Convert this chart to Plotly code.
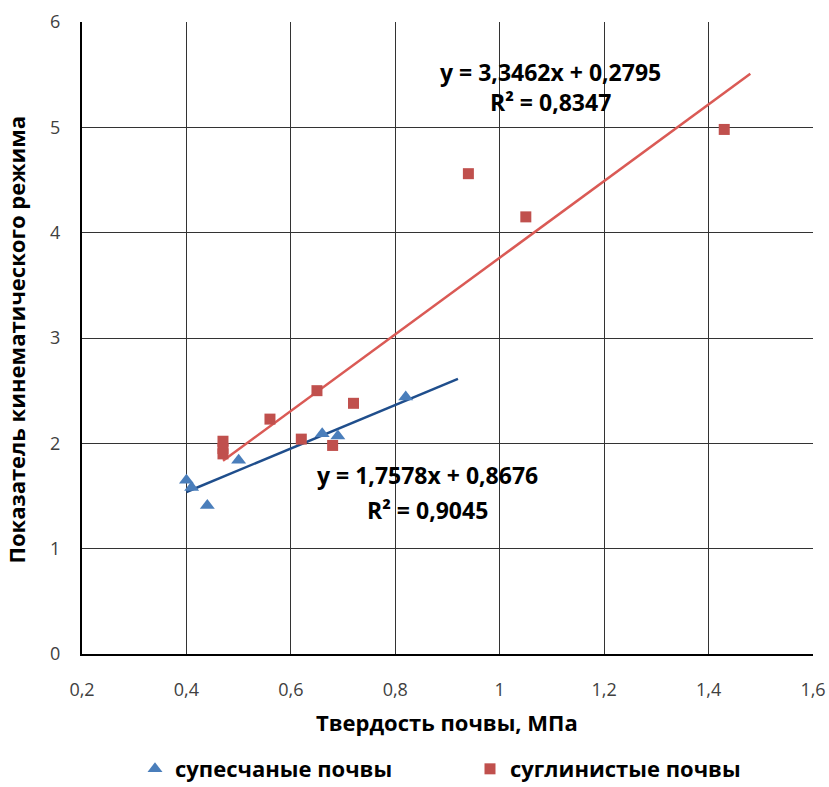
import numpy as np
import plotly.graph_objects as go

# --- data ---
sand_x = [0.40, 0.41, 0.44, 0.50, 0.66, 0.69, 0.82]
sand_y = [1.65, 1.58, 1.41, 1.84, 2.09, 2.07, 2.44]

loam_x = [0.47, 0.47, 0.47, 0.56, 0.62, 0.65, 0.68, 0.72, 0.94, 1.05, 1.43]
loam_y = [2.02, 1.95, 1.90, 2.23, 2.04, 2.50, 1.98, 2.38, 4.56, 4.15, 4.98]

# equation labels as printed on the chart
sand_k, sand_b, sand_r2 = 1.7578, 0.8676, 0.9045
loam_k, loam_b, loam_r2 = 3.3462, 0.2795, 0.8347
sand_forward = 0.10
loam_forward = 0.05

x_ticks = [0.2, 0.4, 0.6, 0.8, 1.0, 1.2, 1.4, 1.6]
x_tick_text = ["0,2", "0,4", "0,6", "0,8", "1", "1,2", "1,4", "1,6"]
y_ticks = [0, 1, 2, 3, 4, 5, 6]
y_tick_text = ["0", "1", "2", "3", "4", "5", "6"]

name_sand = "супесчаные почвы"
name_loam = "суглинистые почвы"
x_title = "Твердость почвы, МПа"
y_title = "Показатель кинематического режима"

def fmt(v):
    return f"{v:.4f}".replace(".", ",")

# linear trend lines fitted to the plotted points
sk, sb = np.polyfit(sand_x, sand_y, 1)
lk, lb = np.polyfit(loam_x, loam_y, 1)
sand_tx = [min(sand_x), max(sand_x) + sand_forward]
sand_ty = [sk * x + sb for x in sand_tx]
loam_tx = [min(loam_x), max(loam_x) + loam_forward]
loam_ty = [lk * x + lb for x in loam_tx]

FONT = "Open Sans"
fig = go.Figure()

fig.add_trace(go.Scatter(x=loam_tx, y=loam_ty, mode="lines",
                         line=dict(color="#DA5A55", width=2.5), showlegend=False, hoverinfo="skip"))
fig.add_trace(go.Scatter(x=sand_tx, y=sand_ty, mode="lines",
                         line=dict(color="#1F4E8C", width=2.5), showlegend=False, hoverinfo="skip"))

fig.add_trace(go.Scatter(x=sand_x, y=sand_y, mode="markers", name=name_sand,
                         marker=dict(symbol="triangle-up", size=13, color="#4A7EBB")))
fig.add_trace(go.Scatter(x=loam_x, y=loam_y, mode="markers", name=name_loam,
                         marker=dict(symbol="square", size=11, color="#C0504D")))

ann_font = dict(family=FONT, size=23, color="#000000")
fig.add_annotation(x=1.098, y=5.53, xref="x", yref="y", showarrow=False,
                   text=f"<b>y = {fmt(loam_k)}x + {fmt(loam_b)}</b>", font=ann_font)
fig.add_annotation(x=1.097, y=5.24, xref="x", yref="y", showarrow=False,
                   text=f"<b>R² = {fmt(loam_r2)}</b>", font=ann_font)
fig.add_annotation(x=0.861, y=1.70, xref="x", yref="y", showarrow=False,
                   text=f"<b>y = {fmt(sand_k)}x + {fmt(sand_b)}</b>", font=ann_font)
fig.add_annotation(x=0.861, y=1.37, xref="x", yref="y", showarrow=False,
                   text=f"<b>R² = {fmt(sand_r2)}</b>", font=ann_font)

title_font = dict(family=FONT, size=22, color="#000000")
fig.add_annotation(x=0.499, y=-0.1076, xref="paper", yref="paper", showarrow=False,
                   text=f"<b>{x_title}</b>", font=title_font, yanchor="middle")
fig.add_annotation(x=-0.090, y=0.498, xref="paper", yref="paper", showarrow=False,
                   text=f"<b>{y_title}</b>", font=title_font, textangle=-90,
                   xanchor="center", yanchor="middle")

fig.update_layout(
    width=829, height=787,
    margin=dict(l=82, r=16, t=22, b=133, autoexpand=False),
    paper_bgcolor="white", plot_bgcolor="white",
    font=dict(family=FONT, color="#404040"),
    showlegend=True,
    legend=dict(orientation="h", x=0.0725, xanchor="left", y=-0.182, yanchor="middle",
                font=dict(family=FONT, size=22, color="#000000", weight="bold"),
                entrywidth=290, entrywidthmode="pixels", itemsizing="trace"),
)
fig.update_xaxes(range=[0.2, 1.6], tickvals=x_ticks, ticktext=x_tick_text,
                 showgrid=True, gridcolor="#333333", gridwidth=1,
                 showline=True, linecolor="#000000", linewidth=2, mirror=False,
                 zeroline=False, ticks="", ticklabelstandoff=18, automargin=False,
                 tickfont=dict(family=FONT, size=18, color="#404040"))
fig.update_yaxes(range=[0, 6], tickvals=y_ticks, ticktext=y_tick_text,
                 showgrid=True, gridcolor="#333333", gridwidth=1,
                 showline=True, linecolor="#000000", linewidth=2, mirror=False,
                 zeroline=False, ticks="", ticklabelstandoff=16, automargin=False,
                 tickfont=dict(family=FONT, size=18, color="#404040"))

fig.write_html("out.html", config={"displayModeBar": False},
               post_script="document.body.style.margin='0px';")
